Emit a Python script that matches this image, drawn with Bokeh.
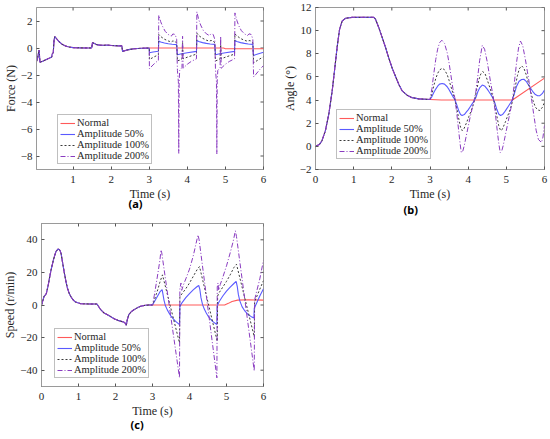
import math
from bokeh.plotting import figure
from bokeh.models import FixedTicker, Legend, LegendItem, Range1d, Title
from bokeh.layouts import column, row
from bokeh.embed import file_html
from bokeh.resources import INLINE

# ---------------- data: panel (a) Force (N) ----------------
t_a_common = [0.04, 0.07, 0.10, 0.11, 0.13, 0.20, 0.30, 0.40, 0.44, 0.45, 0.48, 0.50, 0.52, 0.56,
              0.62, 0.70, 0.80, 0.90, 1.00, 1.20, 1.49, 1.51, 1.56, 1.62, 1.70, 1.80, 1.90, 2.00,
              2.10, 2.20, 2.28, 2.30, 2.40, 2.50, 2.60, 2.80, 3.00]
f_common = [-1.00, -0.75, -0.25, -0.15, -1.05, -0.98, -0.85, -0.72, -0.66, -0.45, -0.35, 0.55, 0.85, 0.72,
            0.50, 0.30, 0.15, 0.07, 0.03, 0.01, 0.00, 0.40, 0.33, 0.25, 0.21, 0.20, 0.21, 0.19,
            0.17, 0.16, 0.17, -0.25, -0.16, -0.10, -0.06, -0.02, 0.00]

t_a_normal = [3.00, 4.00, 4.95, 5.00, 6.00]
f_normal = [0.00, 0.00, 0.00, -0.05, -0.05]

t_a_50 = [3.00, 3.005, 3.10, 3.24, 3.25, 3.30, 3.40, 3.50, 3.60, 3.72, 3.74, 3.85, 4.00, 4.24,
          4.25, 4.30, 4.40, 4.50, 4.60, 4.72, 4.74, 4.85, 5.00, 5.24, 5.25, 5.30, 5.40, 5.50,
          5.60, 5.72, 5.74, 5.85, 6.00]
f_50 = [0.00, -0.35, -0.30, -0.24, 0.52, 0.45, 0.37, 0.32, 0.28, 0.25, -0.50, -0.42, -0.35, -0.25,
        0.55, 0.48, 0.40, 0.34, 0.30, 0.27, -0.50, -0.42, -0.35, -0.25, 0.55, 0.48, 0.40, 0.34,
        0.30, 0.27, -0.55, -0.45, -0.32]

t_a_100 = [3.00, 3.005, 3.10, 3.24, 3.25, 3.30, 3.40, 3.50, 3.58, 3.62, 3.68, 3.72, 3.74, 3.80,
           3.86, 3.875, 3.89, 4.00, 4.24, 4.25, 4.30, 4.40, 4.50, 4.58, 4.62, 4.68, 4.72, 4.74,
           4.80, 4.86, 4.875, 4.89, 5.00, 5.24, 5.25, 5.30, 5.40, 5.50, 5.58, 5.62, 5.68, 5.72,
           5.74, 5.85, 6.00]
f_100 = [0.00, -0.85, -0.70, -0.50, 1.00, 0.85, 0.65, 0.52, 0.45, 0.52, 0.50, 0.35, -0.95, -0.90,
         -0.80, 0.40, -0.80, -0.68, -0.45, 1.10, 0.92, 0.72, 0.58, 0.50, 0.56, 0.53, 0.38, -0.95,
         -0.90, -0.80, 0.40, -0.80, -0.68, -0.45, 1.05, 0.90, 0.70, 0.57, 0.50, 0.55, 0.52, 0.38,
         -1.10, -0.90, -0.65]

t_a_200 = [3.00, 3.005, 3.10, 3.20, 3.24, 3.25, 3.30, 3.35, 3.42, 3.50, 3.58, 3.62, 3.68, 3.72,
           3.74, 3.765, 3.775, 3.785, 3.80, 3.86, 3.875, 3.89, 4.00, 4.10, 4.24, 4.25, 4.30, 4.35,
           4.42, 4.50, 4.58, 4.62, 4.68, 4.72, 4.74, 4.765, 4.775, 4.785, 4.80, 4.86, 4.875, 4.89,
           5.00, 5.10, 5.24, 5.25, 5.30, 5.35, 5.42, 5.50, 5.58, 5.62, 5.68, 5.72, 5.74, 5.80,
           5.90, 6.00]
f_200 = [0.00, -1.54, -1.25, -1.00, -0.94, 2.43, 1.95, 1.60, 1.23, 1.00, 0.88, 1.04, 1.00, 0.65,
         -1.66, -2.50, -7.80, -2.50, -1.66, -1.45, 0.87, -1.50, -1.20, -1.00, -0.80, 2.68, 2.10, 1.70,
         1.30, 1.05, 0.92, 1.05, 1.00, 0.65, -1.66, -2.50, -7.85, -2.50, -1.66, -1.45, 0.87, -1.50,
         -1.20, -1.00, -0.80, 2.60, 2.05, 1.65, 1.28, 1.05, 0.92, 1.05, 1.00, 0.65, -2.15, -1.95,
         -1.60, -1.30]

# ---------------- data: panel (b) Angle (deg) ----------------
t_b_common = [0.00, 0.10, 0.17, 0.26, 0.35, 0.44, 0.51, 0.57, 0.63, 0.70, 0.79, 0.96, 1.53, 1.57,
              1.66, 1.75, 1.84, 1.92, 2.01, 2.10, 2.19, 2.27, 2.40, 2.53, 2.71, 3.00]
a_common = [0.00, 0.15, 0.49, 1.36, 2.81, 4.86, 6.90, 8.65, 10.10, 10.84, 11.07, 11.15, 11.15, 11.00,
            10.25, 9.38, 8.50, 7.63, 6.75, 6.02, 5.30, 4.80, 4.42, 4.21, 4.10, 4.05]

t_b_normal = [3.00, 3.30, 5.16, 6.00]
a_normal = [4.05, 4.00, 4.00, 5.90]

t_b_50 = [3.00, 3.05, 3.10, 3.15, 3.20, 3.25, 3.32, 3.38, 3.45, 3.50, 3.55, 3.60, 3.65, 3.70,
          3.75, 3.80, 3.84, 3.90, 3.95, 4.00, 4.05, 4.10, 4.15, 4.20, 4.25, 4.30, 4.37, 4.43,
          4.50, 4.55, 4.60, 4.65, 4.70, 4.75, 4.80, 4.85, 4.90, 4.95, 5.00, 5.05, 5.10, 5.15,
          5.20, 5.27, 5.33, 5.40, 5.46, 5.52, 5.58, 5.64, 5.70, 5.76, 5.82, 5.88, 5.94, 6.00]
a_50 = [4.05, 4.30, 4.65, 4.95, 5.20, 5.38, 5.44, 5.38, 5.15, 4.90, 4.60, 4.30, 4.05, 3.60,
        3.10, 2.75, 2.67, 2.75, 2.95, 3.15, 3.40, 3.65, 3.90, 4.20, 4.70, 5.05, 5.30, 5.22,
        4.95, 4.70, 4.45, 4.15, 3.75, 3.20, 2.80, 2.67, 2.75, 2.95, 3.20, 3.45, 3.70, 3.95,
        4.45, 5.20, 5.60, 5.78, 5.80, 5.62, 5.30, 5.00, 4.70, 4.48, 4.37, 4.38, 4.55, 4.86]

t_b_100 = [3.00, 3.05, 3.10, 3.15, 3.20, 3.25, 3.32, 3.38, 3.45, 3.50, 3.55, 3.60, 3.65, 3.70,
           3.75, 3.80, 3.84, 3.88, 3.92, 3.97, 4.02, 4.07, 4.12, 4.17, 4.22, 4.28, 4.33, 4.38,
           4.44, 4.50, 4.55, 4.60, 4.65, 4.70, 4.75, 4.80, 4.85, 4.89, 4.93, 4.98, 5.03, 5.08,
           5.13, 5.18, 5.23, 5.29, 5.34, 5.40, 5.46, 5.52, 5.58, 5.64, 5.70, 5.76, 5.82, 5.88,
           5.94, 6.00]
a_100 = [4.05, 4.55, 5.25, 5.85, 6.30, 6.60, 6.75, 6.62, 6.20, 5.70, 5.15, 4.60, 4.10, 3.30,
         2.45, 1.65, 1.36, 1.45, 1.75, 2.15, 2.60, 3.00, 3.45, 4.05, 4.85, 5.75, 6.25, 6.46,
         6.30, 5.75, 5.25, 4.75, 4.25, 3.55, 2.65, 1.80, 1.36, 1.45, 1.75, 2.15, 2.60, 3.00,
         3.50, 4.20, 5.10, 6.10, 6.70, 6.96, 6.75, 6.20, 5.45, 4.70, 3.95, 3.40, 3.15, 3.10,
         3.35, 3.80]

t_b_200 = [3.00, 3.05, 3.10, 3.15, 3.20, 3.25, 3.31, 3.38, 3.45, 3.50, 3.55, 3.60, 3.65, 3.70,
           3.75, 3.79, 3.82, 3.86, 3.90, 3.95, 4.00, 4.05, 4.10, 4.15, 4.20, 4.25, 4.30, 4.37,
           4.43, 4.50, 4.55, 4.60, 4.65, 4.70, 4.75, 4.80, 4.84, 4.88, 4.92, 4.97, 5.02, 5.07,
           5.12, 5.17, 5.22, 5.27, 5.32, 5.37, 5.43, 5.50, 5.55, 5.60, 5.66, 5.72, 5.78, 5.84,
           5.92, 5.96, 6.00]
a_200 = [4.05, 5.00, 6.30, 7.50, 8.40, 8.95, 9.17, 8.90, 8.10, 7.20, 6.10, 5.00, 4.20, 2.90,
         1.40, 0.20, -0.54, -0.40, 0.10, 0.90, 1.70, 2.50, 3.20, 3.90, 4.70, 6.00, 7.40, 8.73,
         8.40, 7.30, 6.30, 5.30, 4.40, 3.20, 1.70, 0.30, -0.54, -0.40, 0.10, 0.90, 1.70, 2.50,
         3.30, 4.30, 5.80, 7.30, 8.50, 9.10, 8.70, 7.50, 6.50, 5.50, 4.10, 2.70, 1.40, 0.60,
         0.33, 0.80, 1.80]

# ---------------- data: panel (c) Speed (r/min) ----------------
t_c_common = [0.00, 0.04, 0.07, 0.10, 0.13, 0.18, 0.25, 0.32, 0.39, 0.45, 0.50, 0.53, 0.57, 0.61,
              0.66, 0.70, 0.75, 0.79, 0.85, 0.92, 1.06, 1.30, 1.50, 1.53, 1.60, 1.69, 1.82, 1.96,
              2.09, 2.18, 2.22, 2.26, 2.29, 2.32, 2.36, 2.43, 2.50, 2.60, 2.68, 2.80, 2.90, 3.00]
s_common = [0.0, 3.0, 5.3, 6.0, 7.0, 12.0, 20.6, 27.5, 32.8, 34.4, 33.5, 31.5, 26.0, 20.6,
            14.5, 10.4, 7.0, 5.3, 3.2, 1.8, 0.8, 0.6, 0.6, -0.5, -2.9, -4.9, -6.4, -8.4,
            -9.6, -10.2, -10.4, -11.0, -12.5, -9.0, -5.9, -4.0, -2.9, -1.6, -0.8, -0.2, 0.0, 0.0]

t_c_normal = [3.00, 4.95, 5.05, 5.15, 5.30, 5.60, 6.00]
s_normal = [0.0, 0.0, 1.0, 2.2, 3.0, 3.2, 3.0]

t_c_50 = [3.00, 3.05, 3.10, 3.15, 3.20, 3.26, 3.28, 3.31, 3.35, 3.40, 3.45, 3.50, 3.55, 3.60,
          3.65, 3.73, 3.74, 3.80, 3.90, 4.00, 4.10, 4.20, 4.25, 4.28, 4.31, 4.35, 4.40, 4.45,
          4.50, 4.55, 4.60, 4.65, 4.74, 4.75, 4.80, 4.90, 5.00, 5.10, 5.20, 5.26, 5.29, 5.32,
          5.36, 5.42, 5.50, 5.58, 5.66, 5.74, 5.75, 5.80, 5.90, 6.00]
s_50 = [0.0, 2.0, 4.0, 6.0, 8.0, 9.4, 7.0, 3.0, -0.5, -3.0, -5.0, -6.8, -8.2, -9.5,
        -10.5, -12.0, -1.0, 1.5, 4.5, 7.0, 9.3, 11.2, 12.0, 9.5, 4.5, 0.5, -2.5, -4.8,
        -6.7, -8.2, -9.5, -10.5, -12.0, -0.5, 2.0, 5.5, 8.5, 11.0, 13.2, 14.5, 11.5, 6.5,
        2.5, -1.0, -3.8, -5.8, -7.0, -8.0, -2.0, 0.5, 5.5, 10.0]

t_c_100 = [3.00, 3.05, 3.10, 3.15, 3.20, 3.27, 3.73, 3.74, 3.80, 3.90, 4.00, 4.10, 4.20, 4.27,
           4.75, 4.76, 4.80, 4.90, 5.00, 5.10, 5.20, 5.27, 5.75, 5.76, 5.85, 6.00]
s_100 = [0.0, 3.0, 6.5, 10.0, 14.0, 18.5, -23.3, 5.0, 7.0, 10.0, 13.5, 17.5, 21.5, 23.6,
         -22.3, 5.5, 7.5, 11.0, 14.5, 18.5, 23.0, 25.0, -19.5, 2.0, 7.0, 15.0]

t_c_200 = [3.00, 3.05, 3.10, 3.15, 3.20, 3.23, 3.25, 3.73, 3.74, 3.77, 3.79, 3.83, 3.90, 4.00,
           4.10, 4.18, 4.23, 4.26, 4.74, 4.75, 4.77, 4.79, 4.83, 4.90, 5.00, 5.10, 5.18, 5.24,
           5.27, 5.75, 5.76, 5.80, 5.90, 6.00]
s_200 = [0.0, 6.0, 13.0, 20.0, 27.5, 33.8, 32.0, -44.7, 10.0, 13.5, 9.0, 12.0, 16.0, 22.0,
         30.0, 38.0, 43.0, 40.0, -44.7, 11.0, 13.5, 9.0, 12.5, 17.0, 24.0, 32.0, 39.0, 45.5,
         42.0, -40.5, 3.0, 7.0, 16.0, 27.5]

series_names = ["Normal", "Amplitude 50%", "Amplitude 100%", "Amplitude 200%"]
x_ticks_a = [1, 2, 3, 4, 5, 6]
x_ticks = [0, 1, 2, 3, 4, 5, 6]
y_ticks_a = [-8, -6, -4, -2, 0, 2]
y_ticks_b = [-2, 0, 2, 4, 6, 8, 10, 12]
y_ticks_c = [-40, -20, 0, 20, 40]

# ---------------- styling ----------------
FONT = "Liberation Serif"
STYLES = [
    dict(color="#ff5a5a", line_dash="solid", line_width=1.1),
    dict(color="#5a5aff", line_dash="solid", line_width=1.1),
    dict(color="#3a3a3a", line_dash="2 2", line_width=1.0),
    dict(color="#8a3cc0", line_dash="5 2 1 2", line_width=1.0),
]
AX_LINE = "#9a9a9a"
TICK = "#555555"
TXT = "#262626"


def minus(v):
    return ("\u2212" + str(abs(v))) if v < 0 else str(v)


def make_panel(width, height, xr, yr, xt, yt, ylabel, tag, tag_offset, tag_standoff,
               borders, legend_xy, series):
    bl, br, bt, bb = borders
    p = figure(width=width, height=height, output_backend="svg", toolbar_location=None,
               x_range=Range1d(*xr), y_range=Range1d(*yr),
               min_border_left=bl, min_border_right=br, min_border_top=bt, min_border_bottom=bb,
               background_fill_color="white", border_fill_color="white")
    p.xgrid.visible = False
    p.ygrid.visible = False
    p.outline_line_color = AX_LINE
    p.outline_line_alpha = 1.0
    for ax, ticks in ((p.xaxis[0], xt), (p.yaxis[0], yt)):
        ax.ticker = FixedTicker(ticks=ticks)
        ax.major_label_overrides = {v: minus(v) for v in ticks}
        ax.major_tick_in = 3
        ax.major_tick_out = 0
        ax.minor_tick_in = 0
        ax.minor_tick_out = 0
        ax.axis_line_color = AX_LINE
        ax.major_tick_line_color = TICK
        ax.major_label_text_font = FONT
        ax.major_label_text_font_size = "11px"
        ax.major_label_text_color = TXT
        ax.axis_label_text_font = FONT
        ax.axis_label_text_font_size = "12px"
        ax.axis_label_text_font_style = "normal"
        ax.axis_label_text_color = TXT
    p.yaxis[0].major_label_standoff = 4
    p.yaxis[0].axis_label_standoff = 0
    p.xaxis[0].major_label_standoff = 6
    p.xaxis[0].axis_label_standoff = 1
    p.xaxis[0].axis_label = "Time (s)"
    p.yaxis[0].axis_label = ylabel
    # mirrored inward ticks on the top and right edges of the box
    p.scatter(xt, [yr[1]] * len(xt), marker="dash", angle=math.pi / 2, size=6,
              line_color=TICK, line_width=1)
    p.scatter([xr[1]] * len(yt), yt, marker="dash", size=6, line_color=TICK, line_width=1)
    items = []
    for name, (tx, vy), st in zip(series_names, series, STYLES):
        r = p.line(tx, vy, **st)
        items.append(LegendItem(label=name, renderers=[r]))
    leg = Legend(items=items, location=legend_xy, label_text_font=FONT, label_text_font_size="10.5px",
                 label_text_color=TXT, label_height=10, glyph_height=10, glyph_width=15,
                 label_standoff=2, spacing=0, padding=2, margin=0,
                 border_line_color="#7f7f7f", border_line_width=1, background_fill_alpha=1.0,
                 label_text_line_height=1.0)
    p.add_layout(leg)
    title = Title(text=tag, align="left", offset=tag_offset, vertical_align="top",
                  standoff=tag_standoff, text_font="Noto Sans", text_font_size="11px",
                  text_font_style="bold", text_color="black")
    p.add_layout(title, "below")
    return p


pa = make_panel(268, 223, (0.04, 6), (-9, 3), x_ticks_a, y_ticks_a, "Force (N)", "(a)", 92, -16,
                (34, 5, 7, 54), (21, 5),
                [(t_a_common + t_a_normal, f_common + f_normal),
                 (t_a_common + t_a_50, f_common + f_50),
                 (t_a_common + t_a_100, f_common + f_100),
                 (t_a_common + t_a_200, f_common + f_200)])
pb = make_panel(282, 223, (0, 6), (-2, 12), x_ticks, y_ticks_b, "Angle (\u00b0)", "(b)", 88, -4,
                (47, 6, 7, 54), (21, 10),
                [(t_b_common + t_b_normal, a_common + a_normal),
                 (t_b_common + t_b_50, a_common + a_50),
                 (t_b_common + t_b_100, a_common + a_100),
                 (t_b_common + t_b_200, a_common + a_200)])
pc = make_panel(268, 216, (0, 6), (-50, 50), x_ticks, y_ticks_c, "Speed (r/min)", "(c)", 89, -8,
                (40, 5, 0, 53), (13, 8),
                [(t_c_common + t_c_normal, s_common + s_normal),
                 (t_c_common + t_c_50, s_common + s_50),
                 (t_c_common + t_c_100, s_common + s_100),
                 (t_c_common + t_c_200, s_common + s_200)])

layout = column(row(pa, pb), pc)
open("out.html", "w").write(file_html(layout, INLINE))
